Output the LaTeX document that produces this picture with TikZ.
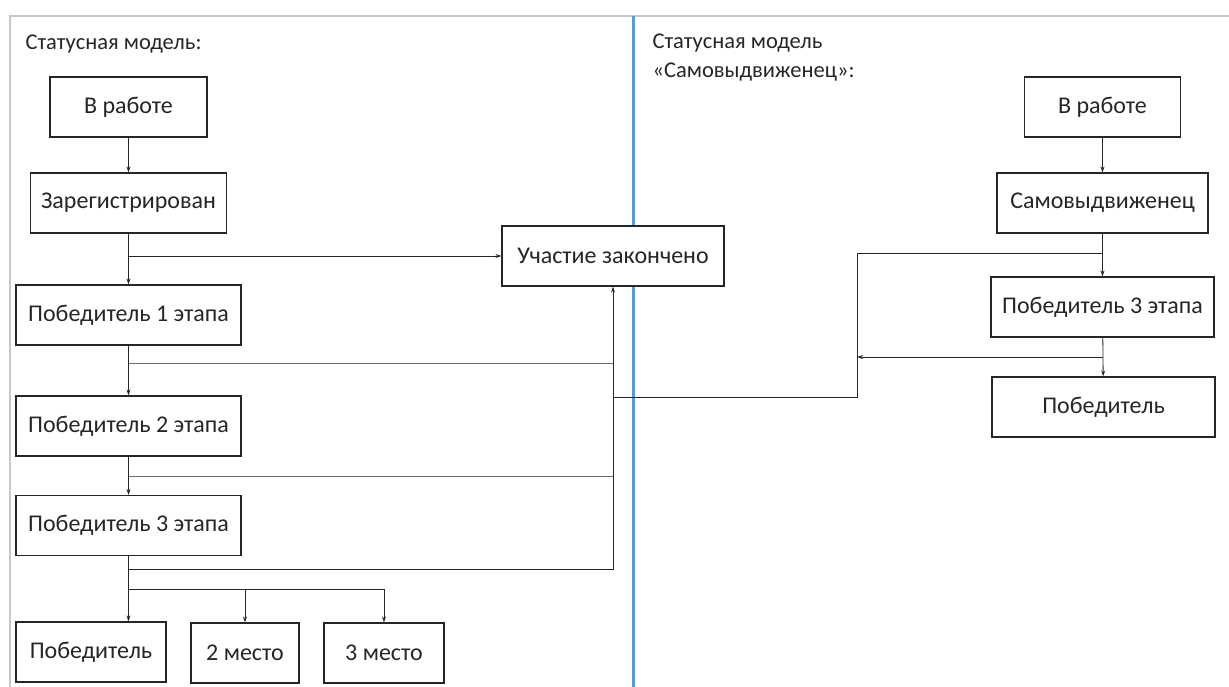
\documentclass[tikz,border=0pt]{standalone}
\usepackage{fontspec}
\setmainfont{Carlito}
\usetikzlibrary{arrows.meta,positioning}
\definecolor{framegray}{RGB}{200,200,200}
\definecolor{splitblue}{RGB}{91,155,213}
\definecolor{linegray}{RGB}{110,110,110}
\begin{document}
\begin{tikzpicture}[x=1pt, y=-1pt,
    state/.style={draw=black!85, line width=1.2pt, fill=white, minimum height=60pt,
        inner sep=0pt, font=\fontsize{24}{28}\selectfont, text=black!85},
    arr/.style={line width=0.8pt, black!85, -{Stealth[length=6pt, width=4pt]}},
    link/.style={line width=0.8pt, linegray},
    title/.style={anchor=west, align=left, font=\fontsize{22.5}{29}\selectfont, text=black!85}]
        \useasboundingbox (0,0) rectangle (1229,687);

        % Frame and divider
        \draw[framegray, line width=1.2pt] (10,687) -- (10,16) -- (1229,16);
        \draw[splitblue, line width=3pt] (633,16) -- (633,687);

        % Titles
        \node[title] (t1) at (22,44) {Статусная модель:};
        \node[title] (t2) at (649,58) {Статусная модель\\«Самовыдвиженец»:};

        % Left model
        \node[state, minimum width=157pt] (rab1) at (128.5,107) {В работе};
        \node[state, minimum width=196pt] (reg) at (128.5,203) {Зарегистрирован};
        \node[state, minimum width=225pt] (pob1) at (128.5,315) {Победитель 1 этапа};
        \node[state, minimum width=225pt] (pob2) at (128.5,426) {Победитель 2 этапа};
        \node[state, minimum width=225pt] (pob3) at (128.5,525.5) {Победитель 3 этапа};
        \node[state, minimum width=150pt] (win) at (91,652) {Победитель};
        \node[state, minimum width=108pt] (second) at (245,653) {2 место};
        \node[state, minimum width=120pt] (third) at (384,653) {3 место};
        \node[state, minimum width=222pt] (end) at (613,256) {Участие закончено};

        % Right model
        \node[state, minimum width=156pt] (rab2) at (1102.5,107) {В работе};
        \node[state, minimum width=211pt] (self) at (1102.5,203) {Самовыдвиженец};
        \node[state, minimum width=223pt] (pob3r) at (1102.5,307) {Победитель 3 этапа};
        \node[state, minimum width=223pt] (winr) at (1103.5,407) {Победитель};

        % Junctions
        \coordinate (b1) at (128.5,363);
        \coordinate (b2) at (128.5,476);
        \coordinate (b3) at (128.5,569);
        \coordinate (fork) at (128.5,589);
        \coordinate (r1) at (1102.5,253);
        \coordinate (r2) at (1102.5,357);
        \coordinate (rk) at (857,397);

        % Left arrows
        \draw[arr] (rab1) -- (reg);
        \draw[arr] (reg) -- (pob1);
        \draw[arr] (pob1) -- (pob2);
        \draw[arr] (pob2) -- (pob3);
        \draw[arr] (reg.south |- end.west) -- (end.west);
        \draw[link] (b1) -- (b1 -| end.south);
        \draw[link] (b2) -- (b2 -| end.south);
        \draw[arr] (b3) -| (end.south);
        \draw[arr] (pob3) -- (fork) -- (fork |- win.north);
        \draw[arr] (fork) -| (second.north);
        \draw[arr] (fork) -| (third.north);

        % Right arrows
        \draw[arr] (rab2) -- (self);
        \draw[arr] (self) -- (pob3r);
        \draw[arr] (pob3r) -- (winr);
        \draw[link, black!85] (r1) -- (r1 -| rk) -- (rk) -- (rk -| end.south);
        \draw[arr] (r2) -- (r2 -| rk);
\end{tikzpicture}
\end{document}
